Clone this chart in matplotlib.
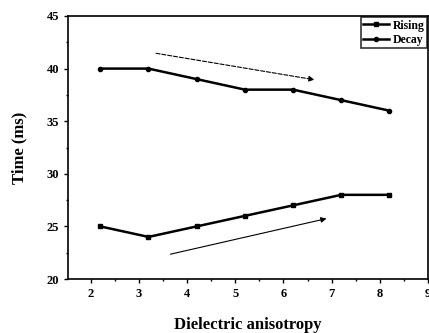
import matplotlib
matplotlib.use("Agg")
import matplotlib.pyplot as plt
from matplotlib.ticker import MultipleLocator

x = [2.2, 3.2, 4.2, 5.2, 6.2, 7.2, 8.2]
rising = [25, 24, 25, 26, 27, 28, 28]
decay = [40, 40, 39, 38, 38, 37, 36]

plt.rcParams['font.family'] = ['Liberation Serif', 'DejaVu Serif']
plt.rcParams['font.weight'] = 'bold'

fig = plt.figure(figsize=(4.29, 3.33), dpi=100)
ax = fig.add_axes([68/429, 1-279/333, (428-68)/429, (279-16)/333])

ax.plot(x, rising, color='black', lw=1.8, marker='s', ms=3, label='Rising')
ax.plot(x, decay, color='black', lw=1.8, marker='o', ms=3, label='Decay')

ax.annotate('', xy=(6.7, 38.9), xytext=(3.3, 41.5),
            arrowprops=dict(arrowstyle='-|>', color='black', lw=0.8, ls='--', mutation_scale=8))
ax.annotate('', xy=(6.95, 25.8), xytext=(3.6, 22.3),
            arrowprops=dict(arrowstyle='-|>', color='black', lw=0.8, mutation_scale=8))

ax.set_xlim(1.53, 9.0)
ax.set_ylim(20, 45)
ax.xaxis.set_major_locator(MultipleLocator(1))
ax.xaxis.set_minor_locator(MultipleLocator(0.5))
ax.yaxis.set_major_locator(MultipleLocator(5))
ax.yaxis.set_minor_locator(MultipleLocator(2.5))
ax.tick_params(which='both', direction='out', labelsize=9, width=1)
ax.tick_params(which='major', length=3)
ax.tick_params(which='minor', length=1.5)
for t in ax.get_xticklabels() + ax.get_yticklabels():
    t.set_fontweight('bold')
for s in ax.spines.values():
    s.set_linewidth(1.2)

ax.set_xlabel('Dielectric anisotropy', fontsize=12, fontweight='bold', labelpad=12)
ax.set_ylabel('Time (ms)', fontsize=12, fontweight='bold', labelpad=14)

leg = ax.legend(loc='upper right', fontsize=8.5, frameon=True, fancybox=False,
                edgecolor='black', borderpad=0.2, handlelength=2.2, handletextpad=0.3,
                labelspacing=0.2, borderaxespad=0.1)
leg.get_frame().set_linewidth(1.2)
for t in leg.get_texts():
    t.set_fontweight('bold')

fig.savefig('out.png', dpi=100)
